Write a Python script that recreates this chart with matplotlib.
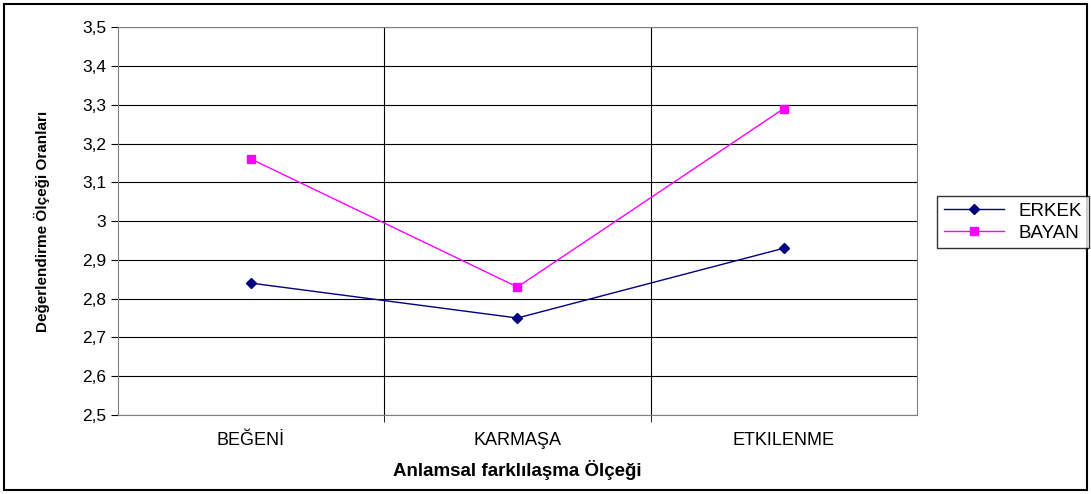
import matplotlib
matplotlib.use("Agg")
import matplotlib.pyplot as plt
from matplotlib.patches import Rectangle

plt.rcParams['font.family'] = ['Liberation Sans', 'DejaVu Sans']

kategoriler = ["BEĞENİ", "KARMAŞA", "ETKILENME"]
erkek = [2.84, 2.75, 2.93]
bayan = [3.16, 2.83, 3.29]
y_ticks = [2.5, 2.6, 2.7, 2.8, 2.9, 3.0, 3.1, 3.2, 3.3, 3.4, 3.5]
y_labels = ["2,5", "2,6", "2,7", "2,8", "2,9", "3", "3,1", "3,2", "3,3", "3,4", "3,5"]

fig = plt.figure(figsize=(10.91, 4.94), dpi=100)
ax = fig.add_axes([0.108, 0.160, 0.7325, 0.785])

x = range(len(kategoriler))
ax.plot(x, erkek, color="#000080", lw=1, marker="D", ms=5, label="ERKEK")
ax.plot(x, bayan, color="#ff00ff", lw=1, marker="s", ms=6, label="BAYAN")

ax.set_xlim(-0.5, 2.5)
ax.set_ylim(2.5, 3.5)
ax.set_yticks(y_ticks)
ax.set_yticklabels(y_labels, fontsize=12.5)
ax.set_xticks([0, 1, 2])
ax.set_xticklabels(kategoriler, fontsize=13)
ax.tick_params(axis="x", length=0, pad=12)
ax.tick_params(axis="y", length=5, direction="out")
ax.set_xticks([0.5, 1.5], minor=True)
ax.tick_params(axis="x", which="minor", length=5, direction="out")
ax.grid(axis="y", color="black", lw=0.8)
ax.grid(axis="x", which="minor", color="black", lw=0.8)
for s in ax.spines.values():
    s.set_color("#808080")

ax.set_xlabel("Anlamsal farklılaşma Ölçeği", fontsize=13.5, fontweight="bold", labelpad=8)
ax.set_ylabel("Değerlendirme Ölçeği Oranları", fontsize=11, fontweight="bold", labelpad=23)

leg = fig.legend(loc="upper left", bbox_to_anchor=(937 / 1091, 1 - 196 / 494),
                 borderaxespad=0, frameon=True, fancybox=False, edgecolor="black",
                 fontsize=13.5, handlelength=3.2, borderpad=0.35, labelspacing=0.25)
leg.get_frame().set_linewidth(1)

fig.patches.append(Rectangle((0.004, 0.008), 0.992, 0.984, transform=fig.transFigure,
                             fill=False, edgecolor="black", lw=1.5))

fig.savefig("out.png", dpi=100)
